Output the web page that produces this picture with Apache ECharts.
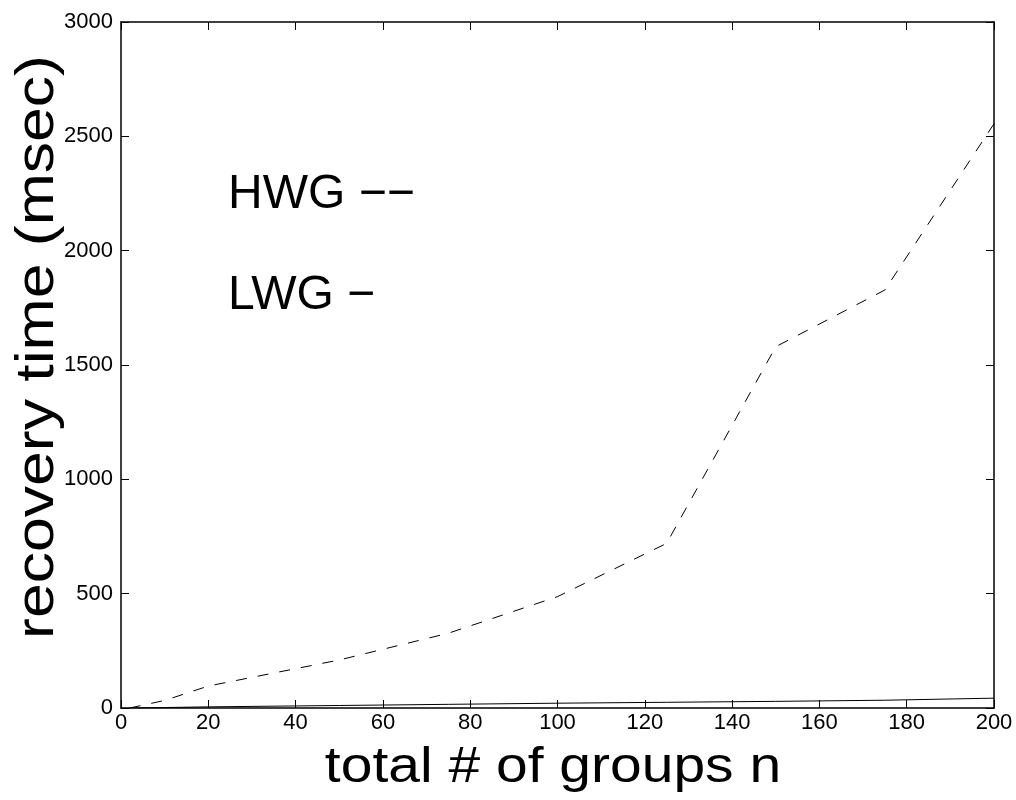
<!DOCTYPE html>
<html>
<head>
<meta charset="utf-8">
<script src="https://cdn.jsdelivr.net/npm/echarts@6/dist/echarts.min.js"></script>
<style>
html,body{margin:0;padding:0;background:#fff;}
#chart{width:1016px;height:800px;}
</style>
</head>
<body>
<div id="chart"></div>
<script>
// Data
var groupsN   = [2, 10, 20, 50, 75, 100, 125, 150, 175, 200];
var hwgValues = [0, 33, 96, 210, 327, 487, 720, 1580, 1828, 2555];
var lwgValues = [0, 2, 5, 11, 16, 21, 25, 29, 34, 43];
var xTicks = [0, 20, 40, 60, 80, 100, 120, 140, 160, 180, 200];
var yTicks = [0, 500, 1000, 1500, 2000, 2500, 3000];

var FONT = '"Liberation Sans", Arial, sans-serif';

function pairs(xs, ys) { return xs.map(function (x, i) { return [x, ys[i]]; }); }

var chart = echarts.init(document.getElementById('chart'), null, {renderer: 'canvas'});

var axisLineStyle = {show: true, onZero: false, lineStyle: {color: '#000', width: 1.5}};
var tickStyle = {show: true, inside: true, length: 8, lineStyle: {color: '#000', width: 1}};
var plainLabel = function (v) { return String(v); };

chart.setOption({
  animation: false,
  backgroundColor: '#fff',
  grid: {left: 121, right: 22, top: 22, bottom: 92, containLabel: false},
  xAxis: [
    {
      type: 'value', position: 'bottom', min: xTicks[0], max: xTicks[xTicks.length - 1], interval: 20,
      axisLine: axisLineStyle, axisTick: tickStyle, splitLine: {show: false},
      axisLabel: {color: '#000', fontSize: 22, fontFamily: FONT, margin: 4, formatter: plainLabel}
    },
    {
      type: 'value', position: 'top', min: xTicks[0], max: xTicks[xTicks.length - 1], interval: 20,
      axisLine: axisLineStyle, axisTick: tickStyle, splitLine: {show: false},
      axisLabel: {show: false}
    }
  ],
  yAxis: [
    {
      type: 'value', position: 'left', min: yTicks[0], max: yTicks[yTicks.length - 1], interval: 500,
      axisLine: axisLineStyle, axisTick: tickStyle, splitLine: {show: false},
      axisLabel: {color: '#000', fontSize: 22, fontFamily: FONT, margin: 8, formatter: plainLabel}
    },
    {
      type: 'value', position: 'right', min: yTicks[0], max: yTicks[yTicks.length - 1], interval: 500,
      axisLine: axisLineStyle, axisTick: tickStyle, splitLine: {show: false},
      axisLabel: {show: false}
    }
  ],
  series: [
    {
      name: 'HWG', type: 'line', xAxisIndex: 0, yAxisIndex: 0, data: pairs(groupsN, hwgValues),
      symbol: 'none', lineStyle: {color: '#000', width: 1, type: [11, 11]}
    },
    {
      name: 'LWG', type: 'line', xAxisIndex: 0, yAxisIndex: 0, data: pairs(groupsN, lwgValues),
      symbol: 'none', lineStyle: {color: '#000', width: 1, type: 'solid'}
    }
  ],
  graphic: [
    {
      type: 'text', x: 228, y: 195,
      style: {text: 'HWG \u2212\u2212', fill: '#000', font: '48px ' + FONT, textAlign: 'left', textVerticalAlign: 'middle'}
    },
    {
      type: 'text', x: 228, y: 296,
      style: {text: 'LWG \u2212', fill: '#000', font: '48px ' + FONT, textAlign: 'left', textVerticalAlign: 'middle'}
    },
    {
      type: 'text', x: 553, y: 768, scaleX: 1.14,
      style: {text: 'total # of groups n', fill: '#000', font: '50px ' + FONT, textAlign: 'center', textVerticalAlign: 'middle'}
    },
    {
      type: 'text', x: 38, y: 347, rotation: Math.PI / 2, scaleX: 1.18,
      style: {text: 'recovery time (msec)', fill: '#000', font: '53px ' + FONT, textAlign: 'center', textVerticalAlign: 'middle'}
    }
  ]
});
</script>
</body>
</html>
